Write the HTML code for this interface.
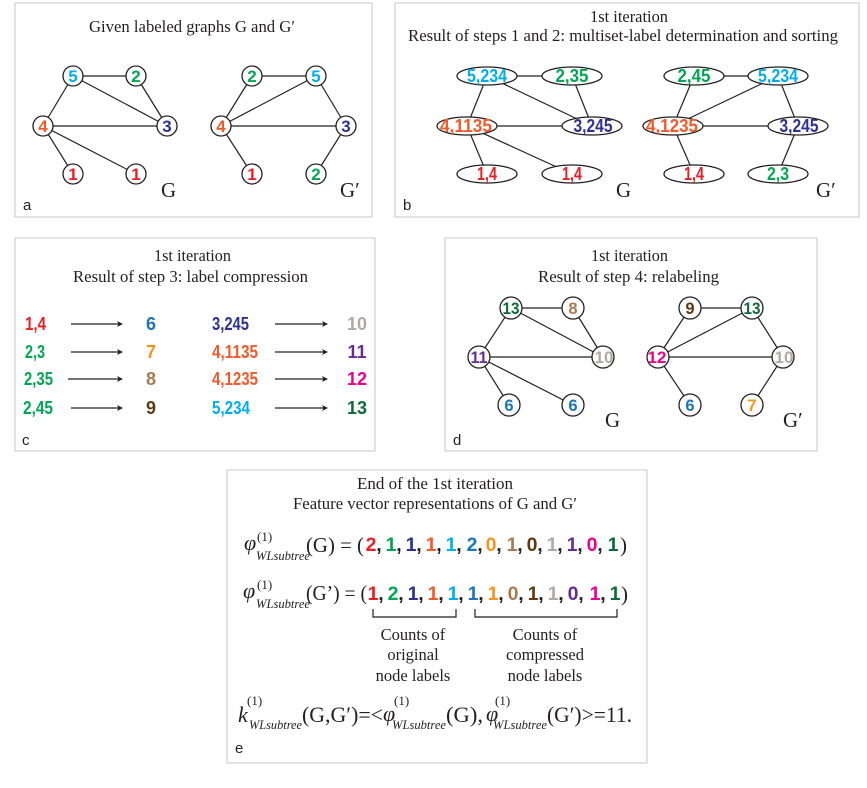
<!DOCTYPE html>
<html><head><meta charset="utf-8"><style>
html,body{margin:0;padding:0;background:#fff;}
svg{display:block;}
.t{font-family:"Liberation Serif",serif;fill:#231f20;}
.n{font-family:"Liberation Sans",sans-serif;font-weight:bold;text-anchor:middle;}
.l{font-family:"Liberation Sans",sans-serif;fill:#231f20;font-size:15px;}
.e{stroke:#231f20;stroke-width:1.2;fill:none;}
.c{fill:#fff;stroke:#231f20;stroke-width:1.3;}
.b{fill:none;stroke:#d0d0d0;stroke-width:1.2;}
</style></head><body>
<svg width="867" height="788" viewBox="0 0 867 788" xmlns="http://www.w3.org/2000/svg">
<!-- panel borders -->
<rect class="b" x="15" y="3" width="357" height="214"/>
<rect class="b" x="395" y="3" width="464" height="214"/>
<rect class="b" x="15" y="238" width="360" height="213"/>
<rect class="b" x="445" y="238" width="372" height="213"/>
<rect class="b" x="227" y="470" width="420" height="293"/>

<!-- ===== Panel a ===== -->
<text class="t" x="89" y="32" font-size="17" textLength="206" lengthAdjust="spacingAndGlyphs">Given labeled graphs G and G′</text>
<g class="e">
<line x1="73" y1="76" x2="136" y2="76"/><line x1="73" y1="76" x2="43" y2="126"/><line x1="73" y1="76" x2="167" y2="126"/>
<line x1="136" y1="76" x2="167" y2="126"/><line x1="43" y1="126" x2="167" y2="126"/><line x1="43" y1="126" x2="73" y2="174"/><line x1="43" y1="126" x2="136" y2="174"/>
<line x1="252" y1="76" x2="316" y2="76"/><line x1="252" y1="76" x2="221" y2="126"/><line x1="316" y1="76" x2="221" y2="126"/>
<line x1="316" y1="76" x2="346" y2="126"/><line x1="221" y1="126" x2="346" y2="126"/><line x1="221" y1="126" x2="252" y2="174"/><line x1="346" y1="126" x2="316" y2="174"/>
</g>
<g>
<circle class="c" cx="73" cy="76" r="10"/><circle class="c" cx="136" cy="76" r="10"/><circle class="c" cx="43" cy="126" r="10"/>
<circle class="c" cx="167" cy="126" r="10"/><circle class="c" cx="73" cy="174" r="10"/><circle class="c" cx="136" cy="174" r="10"/>
<circle class="c" cx="252" cy="76" r="10"/><circle class="c" cx="316" cy="76" r="10"/><circle class="c" cx="221" cy="126" r="10"/>
<circle class="c" cx="346" cy="126" r="10"/><circle class="c" cx="252" cy="174" r="10"/><circle class="c" cx="316" cy="174" r="10"/>
</g>
<g class="n" font-size="17">
<text x="73" y="82" fill="#00aeef">5</text><text x="136" y="82" fill="#00a651">2</text><text x="43" y="132" fill="#f15a29">4</text>
<text x="167" y="132" fill="#2e3192">3</text><text x="73" y="180" fill="#ed1c24">1</text><text x="136" y="180" fill="#ed1c24">1</text>
<text x="252" y="82" fill="#00a651">2</text><text x="316" y="82" fill="#00aeef">5</text><text x="221" y="132" fill="#f15a29">4</text>
<text x="346" y="132" fill="#2e3192">3</text><text x="252" y="180" fill="#ed1c24">1</text><text x="316" y="180" fill="#00a651">2</text>
</g>
<text class="t" x="161" y="197" font-size="21">G</text>
<text class="t" x="340" y="197" font-size="21">G′</text>
<text class="l" x="23" y="210">a</text>

<!-- ===== Panel b ===== -->
<text class="t" x="590" y="22" font-size="16.5" textLength="78" lengthAdjust="spacingAndGlyphs">1st iteration</text>
<text class="t" x="408" y="41" font-size="16.5" textLength="430" lengthAdjust="spacingAndGlyphs">Result of steps 1 and 2: multiset-label determination and sorting</text>
<g class="e">
<line x1="487" y1="76" x2="572" y2="76"/><line x1="487" y1="76" x2="467" y2="126"/><line x1="487" y1="76" x2="592" y2="126"/>
<line x1="572" y1="76" x2="592" y2="126"/><line x1="467" y1="126" x2="592" y2="126"/><line x1="467" y1="126" x2="487" y2="174"/><line x1="467" y1="126" x2="572" y2="174"/>
<line x1="694" y1="76" x2="778" y2="76"/><line x1="694" y1="76" x2="673" y2="126"/><line x1="778" y1="76" x2="673" y2="126"/>
<line x1="778" y1="76" x2="798" y2="126"/><line x1="673" y1="126" x2="798" y2="126"/><line x1="673" y1="126" x2="694" y2="174"/><line x1="798" y1="126" x2="778" y2="174"/>
</g>
<g>
<ellipse class="c" cx="487" cy="76" rx="30" ry="9"/><ellipse class="c" cx="572" cy="76" rx="30" ry="9"/>
<ellipse class="c" cx="467" cy="126" rx="30" ry="9"/><ellipse class="c" cx="592" cy="126" rx="30" ry="9"/>
<ellipse class="c" cx="487" cy="174" rx="30" ry="9"/><ellipse class="c" cx="572" cy="174" rx="30" ry="9"/>
<ellipse class="c" cx="694" cy="76" rx="30" ry="9"/><ellipse class="c" cx="778" cy="76" rx="30" ry="9"/>
<ellipse class="c" cx="673" cy="126" rx="30" ry="9"/><ellipse class="c" cx="798" cy="126" rx="30" ry="9"/>
<ellipse class="c" cx="694" cy="174" rx="30" ry="9"/><ellipse class="c" cx="778" cy="174" rx="30" ry="9"/>
</g>
<g class="n" font-size="18">
<text x="487" y="82" fill="#00aeef" textLength="40" lengthAdjust="spacingAndGlyphs">5,234</text>
<text x="572" y="82" fill="#00a651" textLength="33" lengthAdjust="spacingAndGlyphs">2,35</text>
<text x="466" y="132" fill="#f15a29" textLength="52" lengthAdjust="spacingAndGlyphs">4,1135</text>
<text x="593" y="132" fill="#2e3192" textLength="39" lengthAdjust="spacingAndGlyphs">3,245</text>
<text x="487" y="180" fill="#ed1c24" textLength="20" lengthAdjust="spacingAndGlyphs">1,4</text>
<text x="572" y="180" fill="#ed1c24" textLength="20" lengthAdjust="spacingAndGlyphs">1,4</text>
<text x="694" y="82" fill="#00a651" textLength="33" lengthAdjust="spacingAndGlyphs">2,45</text>
<text x="778" y="82" fill="#00aeef" textLength="40" lengthAdjust="spacingAndGlyphs">5,234</text>
<text x="672" y="132" fill="#f15a29" textLength="52" lengthAdjust="spacingAndGlyphs">4,1235</text>
<text x="799" y="132" fill="#2e3192" textLength="39" lengthAdjust="spacingAndGlyphs">3,245</text>
<text x="694" y="180" fill="#ed1c24" textLength="20" lengthAdjust="spacingAndGlyphs">1,4</text>
<text x="778" y="180" fill="#00a651" textLength="22" lengthAdjust="spacingAndGlyphs">2,3</text>
</g>
<text class="t" x="616" y="197" font-size="21">G</text>
<text class="t" x="816" y="197" font-size="21">G′</text>
<text class="l" x="403" y="210">b</text>

<!-- ===== Panel c ===== -->
<text class="t" x="154" y="261" font-size="16.5" textLength="77" lengthAdjust="spacingAndGlyphs">1st iteration</text>
<text class="t" x="73" y="282" font-size="16.5" textLength="235" lengthAdjust="spacingAndGlyphs">Result of step 3: label compression</text>
<g font-family="Liberation Sans, sans-serif" font-weight="bold" font-size="18">
<text x="25" y="330" fill="#ed1c24" textLength="21" lengthAdjust="spacingAndGlyphs">1,4</text>
<text x="25" y="358" fill="#00a651" textLength="20" lengthAdjust="spacingAndGlyphs">2,3</text>
<text x="24" y="385" fill="#00a651" textLength="29" lengthAdjust="spacingAndGlyphs">2,35</text>
<text x="23" y="414" fill="#00a651" textLength="30" lengthAdjust="spacingAndGlyphs">2,45</text>
<text x="212" y="330" fill="#2e3192" textLength="37" lengthAdjust="spacingAndGlyphs">3,245</text>
<text x="212" y="358" fill="#f15a29" textLength="46" lengthAdjust="spacingAndGlyphs">4,1135</text>
<text x="212" y="385" fill="#f15a29" textLength="46" lengthAdjust="spacingAndGlyphs">4,1235</text>
<text x="212" y="414" fill="#00aeef" textLength="38" lengthAdjust="spacingAndGlyphs">5,234</text>
</g>
<g class="n" font-size="18">
<text x="151" y="330" fill="#1c75bc">6</text>
<text x="151" y="358" fill="#f7941d">7</text>
<text x="151" y="385" fill="#a97c50">8</text>
<text x="151" y="414" fill="#603913">9</text>
<text x="357" y="330" fill="#b3a9a3">10</text>
<text x="357" y="358" fill="#662d91">11</text>
<text x="357" y="385" fill="#ec008c">12</text>
<text x="357" y="414" fill="#0b6b3a">13</text>
</g>
<g stroke="#231f20" stroke-width="1.2">
<line x1="71" y1="324" x2="119" y2="324"/><line x1="71" y1="352" x2="119" y2="352"/>
<line x1="68" y1="379" x2="119" y2="379"/><line x1="71" y1="408" x2="119" y2="408"/>
<line x1="275" y1="324" x2="324" y2="324"/><line x1="275" y1="352" x2="324" y2="352"/>
<line x1="275" y1="379" x2="324" y2="379"/><line x1="275" y1="408" x2="324" y2="408"/>
</g>
<g fill="#231f20">
<path d="M123 324 L117 321 L118.5 324 L117 327Z"/><path d="M123 352 L117 349 L118.5 352 L117 355Z"/>
<path d="M123 379 L117 376 L118.5 379 L117 382Z"/><path d="M123 408 L117 405 L118.5 408 L117 411Z"/>
<path d="M328 324 L322 321 L323.5 324 L322 327Z"/><path d="M328 352 L322 349 L323.5 352 L322 355Z"/>
<path d="M328 379 L322 376 L323.5 379 L322 382Z"/><path d="M328 408 L322 405 L323.5 408 L322 411Z"/>
</g>
<text class="l" x="22" y="445">c</text>

<!-- ===== Panel d ===== -->
<text class="t" x="591" y="261" font-size="16.5" textLength="77" lengthAdjust="spacingAndGlyphs">1st iteration</text>
<text class="t" x="538" y="282" font-size="16.5" textLength="181" lengthAdjust="spacingAndGlyphs">Result of step 4: relabeling</text>
<g class="e">
<line x1="511" y1="308" x2="573" y2="308"/><line x1="511" y1="308" x2="479" y2="357"/><line x1="511" y1="308" x2="603" y2="357"/>
<line x1="573" y1="308" x2="603" y2="357"/><line x1="479" y1="357" x2="603" y2="357"/><line x1="479" y1="357" x2="509" y2="405"/><line x1="479" y1="357" x2="573" y2="405"/>
<line x1="690" y1="308" x2="752" y2="308"/><line x1="690" y1="308" x2="658" y2="357"/><line x1="752" y1="308" x2="658" y2="357"/>
<line x1="752" y1="308" x2="783" y2="357"/><line x1="658" y1="357" x2="783" y2="357"/><line x1="658" y1="357" x2="690" y2="405"/><line x1="783" y1="357" x2="752" y2="405"/>
</g>
<g>
<circle class="c" cx="511" cy="308" r="11"/><circle class="c" cx="573" cy="308" r="11"/><circle class="c" cx="479" cy="357" r="11"/>
<circle class="c" cx="603" cy="357" r="11"/><circle class="c" cx="509" cy="405" r="11"/><circle class="c" cx="573" cy="405" r="11"/>
<circle class="c" cx="690" cy="308" r="11"/><circle class="c" cx="752" cy="308" r="11"/><circle class="c" cx="658" cy="357" r="11"/>
<circle class="c" cx="783" cy="357" r="11"/><circle class="c" cx="690" cy="405" r="11"/><circle class="c" cx="752" cy="405" r="11"/>
</g>
<g class="n" font-size="16.5">
<text x="511" y="314" fill="#0b6b3a" textLength="17" lengthAdjust="spacingAndGlyphs">13</text>
<text x="573" y="314" fill="#a97c50">8</text>
<text x="479" y="363" fill="#662d91" textLength="17" lengthAdjust="spacingAndGlyphs">11</text>
<text x="604" y="363" fill="#b3a9a3" textLength="19" lengthAdjust="spacingAndGlyphs">10</text>
<text x="509" y="411" fill="#1c75bc">6</text>
<text x="573" y="411" fill="#1c75bc">6</text>
<text x="690" y="314" fill="#603913">9</text>
<text x="752" y="314" fill="#0b6b3a" textLength="17" lengthAdjust="spacingAndGlyphs">13</text>
<text x="657" y="363" fill="#ec008c" textLength="19" lengthAdjust="spacingAndGlyphs">12</text>
<text x="784" y="363" fill="#b3a9a3" textLength="19" lengthAdjust="spacingAndGlyphs">10</text>
<text x="690" y="411" fill="#1c75bc">6</text>
<text x="752" y="411" fill="#f7941d">7</text>
</g>
<text class="t" x="605" y="427" font-size="21">G</text>
<text class="t" x="783" y="427" font-size="21">G′</text>
<text class="l" x="453" y="445">d</text>

<!-- ===== Panel e ===== -->
<text class="t" x="357" y="489" font-size="16.5" textLength="156" lengthAdjust="spacingAndGlyphs">End of  the 1st iteration</text>
<text class="t" x="293" y="509" font-size="16.5" textLength="284" lengthAdjust="spacingAndGlyphs">Feature vector representations of G and G′</text>

<!-- line 1 -->
<text class="t" x="244" y="550" font-size="22" font-style="italic">φ</text>
<text class="t" x="257" y="541" font-size="13">(1)</text>
<text class="t" x="256" y="560" font-size="13" font-style="italic" textLength="54" lengthAdjust="spacingAndGlyphs">WLsubtree</text>
<text class="t" x="306" y="552" font-size="21" textLength="58" lengthAdjust="spacingAndGlyphs">(G) = (</text>
<g class="n" font-size="19.5">
<text x="371" y="551" fill="#ed1c24">2</text><text x="391" y="551" fill="#00a651">1</text><text x="411" y="551" fill="#2e3192">1</text>
<text x="431" y="551" fill="#f15a29">1</text><text x="451" y="551" fill="#00aeef">1</text><text x="472" y="551" fill="#1c75bc">2</text>
<text x="491" y="551" fill="#f7941d">0</text><text x="512" y="551" fill="#a97c50">1</text><text x="532" y="551" fill="#603913">0</text>
<text x="552" y="551" fill="#b3a9a3">1</text><text x="572" y="551" fill="#662d91">1</text><text x="592" y="551" fill="#ec008c">0</text>
<text x="613" y="551" fill="#0b6b3a">1</text>
</g>
<g class="n" font-size="19.5" fill="#231f20">
<text x="379" y="551">,</text><text x="399" y="551">,</text><text x="419" y="551">,</text><text x="439" y="551">,</text>
<text x="459" y="551">,</text><text x="480" y="551">,</text><text x="499" y="551">,</text><text x="520" y="551">,</text>
<text x="540" y="551">,</text><text x="560" y="551">,</text><text x="580" y="551">,</text><text x="600" y="551">,</text>
</g>
<text class="t" x="620" y="552" font-size="21">)</text>

<!-- line 2 -->
<text class="t" x="243" y="598" font-size="22" font-style="italic">φ</text>
<text class="t" x="257" y="589" font-size="13">(1)</text>
<text class="t" x="256" y="608" font-size="13" font-style="italic" textLength="54" lengthAdjust="spacingAndGlyphs">WLsubtree</text>
<text class="t" x="306" y="600" font-size="21" textLength="61" lengthAdjust="spacingAndGlyphs">(G’) = (</text>
<g class="n" font-size="19.5">
<text x="373" y="600" fill="#ed1c24">1</text><text x="393" y="600" fill="#00a651">2</text><text x="413" y="600" fill="#2e3192">1</text>
<text x="433" y="600" fill="#f15a29">1</text><text x="453" y="600" fill="#00aeef">1</text><text x="473" y="600" fill="#1c75bc">1</text>
<text x="493" y="600" fill="#f7941d">1</text><text x="513" y="600" fill="#a97c50">0</text><text x="533" y="600" fill="#603913">1</text>
<text x="553" y="600" fill="#b3a9a3">1</text><text x="573" y="600" fill="#662d91">0</text><text x="595" y="600" fill="#ec008c">1</text>
<text x="615" y="600" fill="#0b6b3a">1</text>
</g>
<g class="n" font-size="19.5" fill="#231f20">
<text x="381" y="600">,</text><text x="401" y="600">,</text><text x="421" y="600">,</text><text x="441" y="600">,</text>
<text x="461" y="600">,</text><text x="481" y="600">,</text><text x="501" y="600">,</text><text x="521" y="600">,</text>
<text x="541" y="600">,</text><text x="561" y="600">,</text><text x="581" y="600">,</text><text x="603" y="600">,</text>
</g>
<text class="t" x="621" y="601" font-size="21">)</text>

<!-- brackets -->
<g class="e">
<polyline points="373,609 373,617 456,617 456,609"/>
<polyline points="475,609 475,617 617,617 617,609"/>
</g>
<g class="t" font-size="16.5" text-anchor="middle">
<text x="413" y="640">Counts of</text><text x="413" y="660">original</text><text x="413" y="681">node labels</text>
<text x="545" y="640">Counts of</text><text x="545" y="660">compressed</text><text x="545" y="681">node labels</text>
</g>

<!-- kernel line -->
<text class="t" x="238" y="722" font-size="22" font-style="italic">k</text>
<text class="t" x="247" y="705" font-size="13">(1)</text>
<text class="t" x="249" y="729" font-size="13" font-style="italic" textLength="53" lengthAdjust="spacingAndGlyphs">WLsubtree</text>
<text class="t" x="302" y="722" font-size="22" textLength="81" lengthAdjust="spacingAndGlyphs">(G,G′)=&lt;</text>
<text class="t" x="383" y="721" font-size="22" font-style="italic">φ</text>
<text class="t" x="394" y="705" font-size="13">(1)</text>
<text class="t" x="392" y="729" font-size="13" font-style="italic" textLength="54" lengthAdjust="spacingAndGlyphs">WLsubtree</text>
<text class="t" x="446" y="722" font-size="22" textLength="37" lengthAdjust="spacingAndGlyphs">(G),</text>
<text class="t" x="486" y="721" font-size="22" font-style="italic">φ</text>
<text class="t" x="495" y="705" font-size="13">(1)</text>
<text class="t" x="493" y="729" font-size="13" font-style="italic" textLength="54" lengthAdjust="spacingAndGlyphs">WLsubtree</text>
<text class="t" x="547" y="722" font-size="22" textLength="85" lengthAdjust="spacingAndGlyphs">(G′)&gt;=11.</text>
<text class="l" x="235" y="753">e</text>
</svg>
</body></html>
